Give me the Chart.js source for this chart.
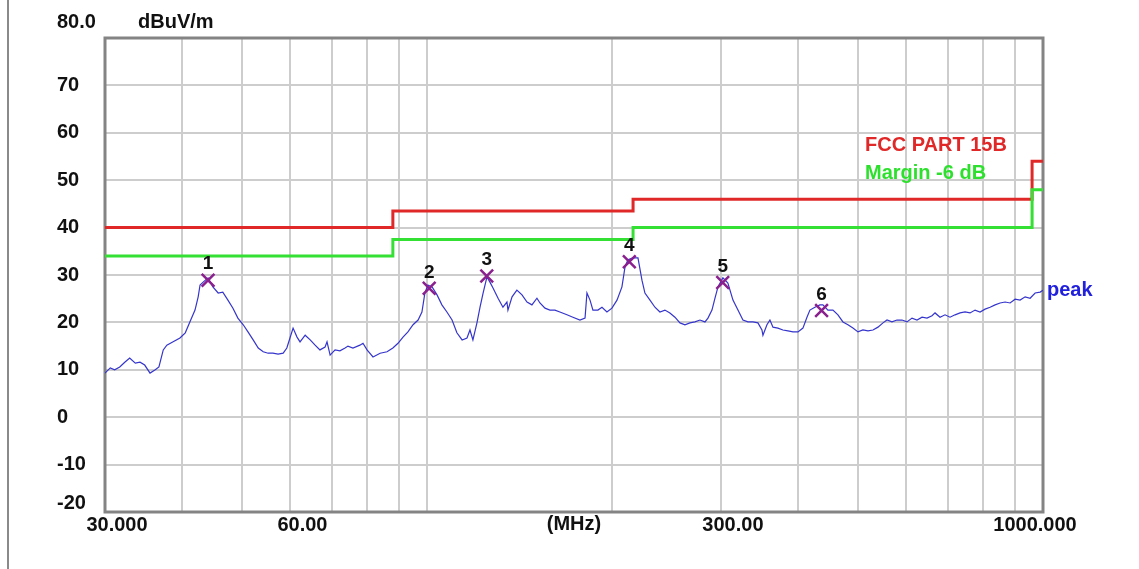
<!DOCTYPE html>
<html>
<head>
<meta charset="utf-8">
<script src="https://cdn.jsdelivr.net/npm/chart.js@4/dist/chart.umd.min.js"></script>
<style>
  body { margin: 0; background: #fff; }
  #wrap { position: relative; width: 1139px; height: 569px; }
  #edge { position: absolute; left: 7px; top: 0; bottom: 0; width: 2px; background: #8a8a8a; }
</style>
</head>
<body>
<div id="wrap">
  <canvas id="emiChart" width="1139" height="569"></canvas>
  <div id="edge"></div>
</div>
<script>
// Peak trace (MHz / dBuV/m)
const freqMHz = [
  30.0, 30.6, 31.1, 31.7, 32.3, 32.9, 33.6, 34.2, 34.8, 35.5, 36.2, 36.7, 37.3, 37.8, 38.7, 39.7,
  40.5, 41.2, 42.0, 42.5, 42.8, 43.3, 44.1, 44.9, 45.8, 46.6, 47.5, 48.4, 49.3, 50.3, 51.2, 52.2,
  53.2, 54.2, 55.2, 56.2, 57.3, 58.4, 59.2, 59.9, 60.6, 61.5, 62.2, 63.4, 64.6, 65.8, 67.0, 68.3,
  68.8, 69.6, 70.9, 72.2, 73.6, 74.4, 75.8, 77.8, 78.7, 79.9, 81.7, 83.9, 86.1, 88.0, 89.7, 91.4,
  93.1, 94.9, 96.7, 98.1, 99.2, 100.3, 101.9, 103.8, 105.7, 107.7, 109.8, 111.8, 114.0, 116.1, 117.4, 118.7,
  120.5, 121.9, 123.3, 125.1, 126.5, 127.9, 130.4, 132.8, 134.8, 135.3, 137.4, 139.9, 142.6, 145.3, 148.0, 150.8,
  152.5, 155.4, 158.3, 161.3, 164.3, 168.7, 172.5, 177.1, 180.5, 181.8, 183.9, 185.9, 189.4, 192.3, 195.9, 199.6,
  203.4, 207.2, 209.6, 211.9, 215.9, 220.0, 223.3, 225.8, 230.1, 234.4, 238.8, 243.3, 247.9, 252.6, 257.4, 262.2,
  267.2, 272.2, 277.4, 282.6, 285.8, 290.1, 293.4, 296.7, 302.2, 307.9, 313.8, 319.7, 325.7, 331.9, 338.1, 344.5,
  349.7, 351.0, 356.3, 360.3, 364.4, 371.2, 378.2, 385.4, 392.7, 400.1, 407.6, 413.8, 418.4, 426.3, 434.3, 439.2,
  447.5, 456.0, 464.6, 473.4, 482.3, 491.4, 500.7, 510.1, 519.8, 529.6, 539.6, 549.8, 558.1, 568.6, 579.3, 590.3,
  601.4, 612.8, 624.4, 636.2, 648.2, 660.4, 667.9, 680.5, 693.3, 706.4, 719.8, 733.4, 747.2, 761.3, 775.7, 790.4,
  805.3, 820.5, 836.0, 851.8, 867.9, 884.3, 901.0, 918.0, 935.4, 953.0, 971.0, 989.4, 1000
];
const levelDb = [
  9.3, 10.4, 10.0, 10.6, 11.6, 12.5, 11.4, 11.6, 11.0, 9.3, 10.0, 10.6, 14.2, 15.2, 15.9, 16.7,
  17.8, 20.1, 22.6, 25.4, 27.9, 28.5, 29.4, 27.5, 26.2, 26.4, 24.7, 23.0, 20.9, 19.5, 18.0, 16.3,
  14.6, 13.8, 13.5, 13.5, 13.3, 13.5, 14.6, 16.7, 18.8, 16.9, 15.9, 17.3, 16.3, 15.2, 14.2, 14.8,
  15.9, 13.1, 14.2, 14.0, 14.6, 15.0, 14.6, 15.2, 15.6, 14.2, 12.7, 13.5, 13.8, 14.6, 15.6, 16.9,
  18.0, 19.5, 20.5, 22.2, 26.2, 27.9, 27.5, 25.8, 23.7, 22.2, 20.5, 17.8, 16.3, 16.7, 18.4, 16.3,
  19.9, 23.2, 26.2, 29.6, 28.5, 27.3, 25.1, 23.2, 24.3, 22.6, 25.4, 26.8, 25.8, 24.3, 23.7, 25.1,
  24.1, 23.0, 22.6, 22.6, 22.2, 21.6, 21.1, 20.5, 20.9, 26.2, 24.7, 22.6, 22.6, 23.2, 22.2, 23.0,
  24.7, 27.5, 31.7, 33.2, 33.6, 33.6, 28.9, 26.2, 24.7, 23.2, 22.2, 22.6, 22.0, 21.1, 19.9, 19.5,
  19.9, 20.1, 20.5, 20.1, 20.9, 22.6, 25.1, 27.5, 29.4, 28.3, 24.7, 22.6, 20.5, 20.1, 20.1, 19.9,
  18.4, 17.3, 19.5, 20.5, 19.0, 18.8, 18.4, 18.2, 18.0, 18.0, 18.8, 21.1, 22.6, 23.2, 23.7, 23.7,
  22.6, 22.6, 21.6, 20.1, 19.5, 18.8, 18.0, 18.4, 18.2, 18.4, 19.0, 19.9, 20.5, 20.1, 20.5, 20.5,
  20.1, 20.9, 20.5, 21.1, 20.9, 21.4, 22.0, 21.1, 21.6, 21.1, 21.6, 22.0, 22.2, 22.0, 22.6, 22.2,
  22.8, 23.2, 23.7, 24.1, 24.3, 24.1, 24.9, 24.7, 25.4, 25.1, 26.2, 26.4, 26.8
];

// FCC Part 15B limit and -6 dB margin (value holds from each start freq)
const limitFreq = [30, 88, 216, 960, 1000];
const limitDb = [40, 43.5, 46, 54, 54];
const marginDb = [34, 37.5, 40, 48, 48];

// marked peaks
const markerNum = ['1', '2', '3', '4', '5', '6'];
const markerFreq = [44.1, 100.8, 125.0, 213.0, 302.0, 437.0];
const markerDb = [28.9, 27.2, 29.8, 32.8, 28.4, 22.5];

// axis ticks
const gridFreqs = [30, 40, 50, 60, 70, 80, 90, 100, 200, 300, 400, 500, 600, 700, 800, 900, 1000];
const xLabelFreqs = [30, 60, 300, 1000];
const xLabelTexts = ['30.000', '60.00', '300.00', '1000.000\u2002\u2002\u2002\u2002'];

const FONT = '"Liberation Sans", Arial, sans-serif';

function pts(xs, ys) {
    return xs.map((f, i) => ({ x: f, y: ys[i] }));
}

// frame, unit text, legend, marker numbers, trace name
const notes = {
    id: 'notes',
    beforeDatasetsDraw(chart) {
        const { ctx, chartArea: a } = chart;
        ctx.save();
        ctx.strokeStyle = '#848484';
        ctx.lineWidth = 3;
        ctx.strokeRect(a.left, a.top, a.right - a.left, a.bottom - a.top);
        ctx.restore();
    },
    afterDraw(chart) {
        const { ctx, chartArea: a, scales: { x, y } } = chart;
        ctx.save();
        ctx.textBaseline = 'middle';
        ctx.font = 'bold 20px ' + FONT;
        ctx.fillStyle = '#111';
        ctx.fillText('dBuV/m', a.left + 33, a.top - 16);

        ctx.fillStyle = '#e02828';
        ctx.fillText('FCC PART 15B', a.left + 760, a.top + 107);
        ctx.fillStyle = '#2ee02e';
        ctx.fillText('Margin -6 dB', a.left + 760, a.top + 135);

        const last = freqMHz.length - 1;
        ctx.fillStyle = '#2020dd';
        ctx.fillText('peak', x.getPixelForValue(freqMHz[last]) + 4, y.getPixelForValue(levelDb[last]));

        ctx.font = 'bold 19px ' + FONT;
        ctx.fillStyle = '#111';
        ctx.textAlign = 'center';
        markerNum.forEach((n, i) => {
            ctx.fillText(n, x.getPixelForValue(markerFreq[i]), y.getPixelForValue(markerDb[i]) - 16);
        });
        ctx.restore();
    }
};

new Chart(document.getElementById('emiChart'), {
    type: 'line',
    data: {
        datasets: [
            {
                label: 'Markers',
                data: pts(markerFreq, markerDb),
                showLine: false,
                pointStyle: 'crossRot',
                pointRadius: 9,
                pointBorderWidth: 2.5,
                pointBorderColor: '#8a1f8e',
                clip: false
            },
            {
                label: 'peak',
                data: pts(freqMHz, levelDb),
                borderColor: '#3535cc',
                borderWidth: 1.2,
                pointRadius: 0,
                tension: 0
            },
            {
                label: 'Margin -6 dB',
                data: pts(limitFreq, marginDb),
                borderColor: '#33e033',
                borderWidth: 3,
                stepped: 'before',
                pointRadius: 0
            },
            {
                label: 'FCC PART 15B',
                data: pts(limitFreq, limitDb),
                borderColor: '#e02828',
                borderWidth: 3,
                stepped: 'before',
                pointRadius: 0
            }
        ]
    },
    options: {
        responsive: false,
        animation: false,
        layout: { padding: { left: 57, top: 38, right: 96, bottom: 17 } },
        plugins: { legend: { display: false }, tooltip: { enabled: false } },
        scales: {
            x: {
                type: 'logarithmic',
                min: 30,
                max: 1000,
                afterBuildTicks: s => { s.ticks = gridFreqs.map(v => ({ value: v })); },
                afterFit: s => { s.height = 40; },
                border: { display: false },
                grid: { color: '#cdcdcd', lineWidth: 2, drawTicks: false },
                ticks: {
                    autoSkip: false,
                    maxRotation: 0,
                    padding: 1,
                    labelOffset: 12,
                    color: '#111',
                    font: { family: FONT, size: 20, weight: 'bold' },
                    callback: v => {
                        const k = xLabelFreqs.indexOf(v);
                        return k >= 0 ? xLabelTexts[k] : '';
                    }
                },
                title: {
                    display: true,
                    text: '(MHz)',
                    color: '#111',
                    padding: { top: 0, bottom: 16 },
                    font: { family: FONT, size: 20, weight: 'bold' }
                }
            },
            y: {
                min: -20,
                max: 80,
                afterFit: s => { s.width = 48; },
                border: { display: false },
                grid: { color: '#cdcdcd', lineWidth: 2, drawTicks: false },
                ticks: {
                    stepSize: 10,
                    autoSkip: false,
                    crossAlign: 'far',
                    padding: 0,
                    color: '#111',
                    font: ctx => {
                        const v = ctx.tick && ctx.tick.value;
                        let lh = 1.2;
                        if (v === 80) lh = '32px';
                        if (v === -20) lh = '18px';
                        return { family: FONT, size: 20, weight: 'bold', lineHeight: lh };
                    },
                    callback: v => {
                        if (v === 80) return ['80.0', ''];
                        if (v === -20) return ['-20', ''];
                        return String(v);
                    }
                }
            }
        }
    },
    plugins: [notes]
});
</script>
</body>
</html>
